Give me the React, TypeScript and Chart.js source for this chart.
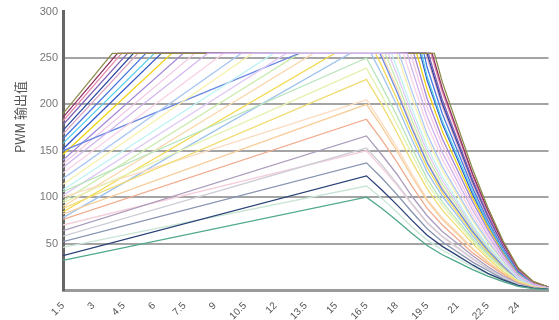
import React, { useEffect, useRef } from "react";
import { Chart, registerables } from "chart.js";

Chart.register(...registerables);

// x tick labels shown at x = 0, 2, 4, ... 30
const xTickLabels = ["1.5", "3", "4.5", "6", "7.5", "9", "10.5", "12", "13.5", "15", "16.5", "18", "19.5", "21", "22.5", "24"];
const yTitle = "PWM 输出值";

type Pt = [number, number];

// lower family (never reach the 255 ceiling)
const lowerSeries: Pt[][] = [
  [[0,32],[20,100],[21,88],[22,75],[23,61],[24,48],[25,38],[26,30],[27,22],[28,15],[29,9],[30,4],[31,1.5],[32,0.5]],
  [[0,37],[20,123],[21,108],[22,92],[23,75],[24,59],[25,47],[26,37],[27,27],[28,18],[29,11],[30,5],[31,2],[32,1]],
  [[0,46],[20,112],[21,99],[22,84],[23,68],[24,54],[25,43],[26,34],[27,25],[28,17],[29,10],[30,4],[31,2],[32,1]],
  [[0,52],[20,137],[21,121],[22,103],[23,84],[24,66],[25,52],[26,41],[27,30],[28,21],[29,12],[30,5],[31,2],[32,1]],
  [[0,58],[20,153],[21,135],[22,115],[23,93],[24,73],[25,58],[26,46],[27,34],[28,23],[29,14],[30,6],[31,2],[32,1]],
  [[0,64],[20,166],[21,146],[22,125],[23,101],[24,80],[25,63],[26,50],[27,37],[28,25],[29,15],[30,7],[31,2],[32,1]],
  [[0,70],[20,150],[21,132],[22,113],[23,92],[24,72],[25,57],[26,45],[27,33],[28,23],[29,14],[30,6],[31,2],[32,1]],
  [[0,76],[20,184],[21,162],[22,138],[23,112],[24,88],[25,70],[26,55],[27,40],[28,28],[29,17],[30,7],[31,3],[32,1]],
  [[0,82],[20,200],[21,176],[22,150],[23,122],[24,96],[25,76],[26,60],[27,44],[28,30],[29,18],[30,8],[31,3],[32,1]],
  [[0,88],[20,227],[21,200],[22,170],[23,138],[24,109],[25,86],[26,68],[27,50],[28,34],[29,20],[30,9],[31,3],[32,1]],
  [[0,94],[20,239],[21,210],[22,179],[23,146],[24,115],[25,91],[26,72],[27,53],[28,36],[29,22],[30,10],[31,4],[32,1]],
  [[0,100],[20,205],[21,180],[22,154],[23,125],[24,98],[25,78],[26,62],[27,45],[28,31],[29,18],[30,8],[31,3],[32,1]],
  [[0,106],[20,250],[21,220],[22,188],[23,153],[24,120],[25,95],[26,75],[27,55],[28,38],[29,23],[30,10],[31,4],[32,1]],
];
const lowerColors = ["#4fa88a", "#2a4276", "#c9e5d6", "#8694b0", "#cdcdd6", "#aa9cbb", "#f5cfdc", "#f0ab8e", "#f8cd9a", "#f1dc74", "#e3f2ae", "#fbdcc0", "#b8e4ba"];

// middle family (reach the ceiling in the middle of the range)
const middleSeries: Pt[][] = [
  [[0,132],[9.53,255],[22.69,255],[23,238],[24,187],[25,148],[26,117],[27,86],[28,59],[29,35],[30,16],[31,6],[32,2]],
  [[0,126],[10.57,255],[22.44,255],[23,226],[24,178],[25,141],[26,111],[27,81],[28,56],[29,33],[30,15],[31,6],[32,2]],
  [[0,120],[11.74,255],[22.15,255],[23,214],[24,168],[25,133],[26,105],[27,77],[28,53],[29,32],[30,14],[31,5],[32,2]],
  [[0,114],[12.48,255],[22,255],[23,207],[24,163],[25,129],[26,102],[27,75],[28,51],[29,31],[30,14],[31,5],[32,2]],
  [[0,108],[13.87,255],[21.64,255],[22,240],[23,195],[24,154],[25,122],[26,96],[27,70],[28,48],[29,29],[30,13],[31,5],[32,2]],
  [[0,102],[14.71,255],[21.44,255],[22,233],[23,189],[24,149],[25,118],[26,93],[27,68],[28,47],[29,28],[30,12],[31,5],[32,2]],
  [[0,150],[15.56,255],[20.88,255],[21,251],[22,214],[23,174],[24,137],[25,108],[26,86],[27,63],[28,43],[29,26],[30,11],[31,4],[32,1]],
  [[0,96],[15.59,255],[21.23,255],[22,225],[23,183],[24,144],[25,114],[26,90],[27,66],[28,45],[29,27],[30,12],[31,5],[32,2]],
  [[0,90],[16.5,255],[21,255],[22,218],[23,177],[24,139],[25,110],[26,87],[27,64],[28,44],[29,26],[30,12],[31,4],[32,1]],
  [[0,84],[17.9,255],[20.6,255],[21,242],[22,206],[23,168],[24,132],[25,105],[26,83],[27,61],[28,41],[29,25],[30,11],[31,4],[32,1]],
  [[0,78],[18.93,255],[20.3,255],[21,233],[22,199],[23,162],[24,127],[25,101],[26,80],[27,58],[28,40],[29,24],[30,11],[31,4],[32,1]],
];
const middleColors = ["#d0b3ee", "#f9d2e6", "#adc9f3", "#f7f1ad", "#bff2f2", "#e1caf4", "#6c8ae3", "#cbebae", "#f9d8ad", "#f3da55", "#a0c3ee"];

// upper family (steep rise, early ceiling, late fall)
const upperSeries: Pt[][] = [
  [[0,190],[3.25,255],[24.48,255],[25,224],[26,177],[27,130],[28,89],[29,53],[30,24],[31,9],[32,3]],
  [[0,186],[3.59,255],[24.33,255],[25,217],[26,171],[27,125],[28,86],[29,51],[30,23],[31,9],[32,3]],
  [[0,182],[3.86,255],[24.25,255],[25,213],[26,168],[27,123],[28,84],[29,50],[30,22],[31,8],[32,3]],
  [[0,178],[4.25,255],[24.08,255],[25,205],[26,162],[27,119],[28,81],[29,49],[30,22],[31,8],[32,3]],
  [[0,172],[4.64,255],[24,255],[25,201],[26,159],[27,117],[28,80],[29,48],[30,21],[31,8],[32,3]],
  [[0,168],[4.94,255],[23.93,255],[25,198],[26,156],[27,114],[28,78],[29,47],[30,21],[31,8],[32,3]],
  [[0,163],[5.46,255],[23.79,255],[24,240],[25,190],[26,150],[27,110],[28,75],[29,45],[30,20],[31,8],[32,3]],
  [[0,158],[6.02,255],[23.64,255],[24,230],[25,182],[26,144],[27,106],[28,72],[29,43],[30,19],[31,7],[32,2]],
  [[0,152],[6.48,255],[23.55,255],[24,226],[25,179],[26,141],[27,103],[28,71],[29,42],[30,19],[31,7],[32,2]],
  [[0,146],[7.17,255],[23.31,255],[24,216],[25,171],[26,135],[27,99],[28,68],[29,41],[30,18],[31,7],[32,2]],
  [[0,140],[7.93,255],[23.12,255],[24,206],[25,163],[26,129],[27,95],[28,65],[29,39],[30,17],[31,6],[32,2]],
  [[0,136],[8.69,255],[22.91,255],[23,250],[24,197],[25,156],[26,123],[27,90],[28,62],[29,37],[30,16],[31,6],[32,2]],
];
const upperColors = ["#8c8c4a", "#8e3060", "#e88bae", "#8064b8", "#28469f", "#dba2c0", "#4a78e0", "#58cceb", "#3558c9", "#f0d215", "#a285d8", "#f3c8e5"];

const yTitlePlugin = {
  id: "yTitleDraw",
  afterDraw(chart: any) {
    const ctx = chart.ctx;
    ctx.save();
    ctx.translate(20, 117);
    ctx.rotate(-Math.PI / 2);
    ctx.textAlign = "center";
    ctx.textBaseline = "middle";
    ctx.fillStyle = "#555";
    ctx.font = '13px "Noto Sans CJK SC", sans-serif';
    ctx.fillText(yTitle, 0, 0);
    ctx.restore();
  },
};

export default function App() {
  const ref = useRef<HTMLCanvasElement>(null);
  useEffect(() => {
    document.body.style.margin = "0";
    const groups: [Pt[][], string[]][] = [
      [lowerSeries, lowerColors],
      [middleSeries, middleColors],
      [upperSeries, upperColors],
    ];
    const datasets: any[] = [];
    groups.forEach(([series, colors]) => {
      series.forEach((pts, i) => {
        datasets.push({
          data: pts,
          borderColor: colors[i],
          borderWidth: 1.3,
          pointRadius: 0,
          fill: false,
          tension: 0,
        });
      });
    });
    const chart = new Chart(ref.current!, {
      type: "line",
      data: { datasets },
      plugins: [yTitlePlugin],
      options: {
        animation: false,
        responsive: false,
        devicePixelRatio: 1,
        layout: { padding: { left: 0, right: 2, top: 2, bottom: 0 } },
        plugins: { legend: { display: false }, tooltip: { enabled: false } },
        scales: {
          x: {
            type: "linear",
            min: 0,
            max: 32,
            grid: { display: false },
            border: { display: true, color: "#9a9a9a", width: 3 },
            afterFit: (scale: any) => {
              scale.height = 30;
            },
            ticks: {
              stepSize: 2,
              autoSkip: false,
              minRotation: 45,
              maxRotation: 45,
              padding: 2,
              color: "#555",
              font: { size: 10, family: "Liberation Sans, Arial, sans-serif" },
              callback: (v: any) => xTickLabels[Math.round(Number(v) / 2)] ?? "",
            },
          },
          y: {
            min: 0,
            max: 300,
            afterFit: (scale: any) => {
              scale.width = 63;
            },
            grid: {
              color: (c: any) => (c.tick && (c.tick.value === 0 || c.tick.value === 300) ? "rgba(0,0,0,0)" : "#a4a4a4"),
              lineWidth: 2,
              drawTicks: false,
            },
            border: { display: true, color: "#666", width: 3 },
            ticks: {
              stepSize: 50,
              padding: 5,
              color: "#777",
              font: { size: 11, family: "Liberation Sans, Arial, sans-serif" },
              callback: (v: any) => (Number(v) === 0 ? "" : String(v)),
            },
          },
        },
      },
    });
    return () => chart.destroy();
  }, []);
  return (
    <div style={{ width: 559, height: 320 }}>
      <canvas ref={ref} width={559} height={320} />
    </div>
  );
}
